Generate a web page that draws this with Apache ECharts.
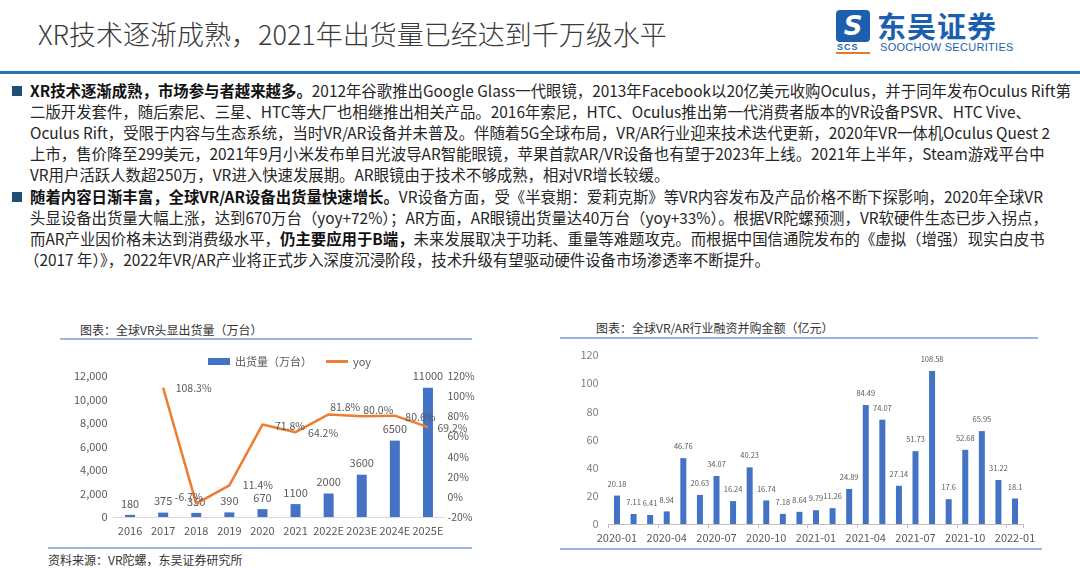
<!DOCTYPE html>
<html>
<head>
<meta charset="utf-8">
<script src="https://cdn.jsdelivr.net/npm/echarts@6/dist/echarts.min.js"></script>
<style>
  html, body { margin: 0; padding: 0; background: #fff; }
  body { width: 1080px; height: 568px; position: relative; overflow: hidden;
         font-family: "Noto Sans CJK SC", sans-serif; color: #262626; }
  .abs { position: absolute; }
  .title { left: 38px; top: 14px; font-size: 27px; color: #3a3a3a; font-weight: 300; white-space: nowrap; }
  .rule { left: 0; top: 71px; width: 1080px; height: 3px; background: #2b74b9; }
  .ln { position: absolute; left: 30px; white-space: nowrap; font-size: 15.4px; line-height: 21px; }
  .ln b { color: #111; }
  .sq { position: absolute; left: 12px; width: 10px; height: 10px; background: #1f4e79; }
  .ctitle { font-size: 12px; color: #333; white-space: nowrap; }
  .hl { height: 2px; background: #9bb5e0; }
  .src { left: 48px; top: 551px; font-size: 12px; color: #333; white-space: nowrap; }
</style>
</head>
<body>
<div class="abs title">XR技术逐渐成熟，2021年出货量已经达到千万级水平</div>

<!-- logo -->
<div class="abs" style="left:836px;top:10px;width:34px;height:32px;background:#1c5fae;border-radius:4px;color:#fff;font:bold 26px/32px 'DejaVu Sans';text-align:center;font-style:italic;">S</div>
<div class="abs" style="left:837px;top:42px;font:bold 9px/10px 'Liberation Sans';color:#1c5fae;letter-spacing:1px;">SCS</div>
<div class="abs" style="left:836px;top:52px;width:34px;height:2px;background:#e07a2c;"></div>
<div class="abs" style="left:877px;top:10px;font-size:29px;line-height:31px;font-weight:bold;color:#1c5fae;letter-spacing:1px;white-space:nowrap;">东吴证券</div>
<div class="abs" style="left:880px;top:41px;font:11px/12px 'Liberation Sans Narrow','Liberation Sans';color:#1c5fae;white-space:nowrap;letter-spacing:0.3px;">SOOCHOW SECURITIES</div>

<div class="abs rule"></div>

<div class="sq" style="top:86px;"></div>
<div class="ln" style="top:80px;"><b>XR技术逐渐成熟，市场参与者越来越多。</b>2012年谷歌推出Google Glass一代眼镜，2013年Facebook以20亿美元收购Oculus，并于同年发布Oculus Rift第</div>
<div class="ln" style="top:101px;">二版开发套件，随后索尼、三星、HTC等大厂也相继推出相关产品。2016年索尼，HTC、Oculus推出第一代消费者版本的VR设备PSVR、HTC Vive、</div>
<div class="ln" style="top:122px;">Oculus Rift，受限于内容与生态系统，当时VR/AR设备并未普及。伴随着5G全球布局，VR/AR行业迎来技术迭代更新，2020年VR一体机Oculus Quest 2</div>
<div class="ln" style="top:143px;">上市，售价降至299美元，2021年9月小米发布单目光波导AR智能眼镜，苹果首款AR/VR设备也有望于2023年上线。2021年上半年，Steam游戏平台中</div>
<div class="ln" style="top:164px;">VR用户活跃人数超250万，VR进入快速发展期。AR眼镜由于技术不够成熟，相对VR增长较缓。</div>

<div class="sq" style="top:192px;"></div>
<div class="ln" style="top:186px;"><b>随着内容日渐丰富，全球VR/AR设备出货量快速增长。</b>VR设备方面，受《半衰期：爱莉克斯》等VR内容发布及产品价格不断下探影响，2020年全球VR</div>
<div class="ln" style="top:207px;">头显设备出货量大幅上涨，达到670万台（yoy+72%）；AR方面，AR眼镜出货量达40万台（yoy+33%）。根据VR陀螺预测，VR软硬件生态已步入拐点，</div>
<div class="ln" style="top:228px;">而AR产业因价格未达到消费级水平，<b>仍主要应用于B端，</b>未来发展取决于功耗、重量等难题攻克。而根据中国信通院发布的《虚拟（增强）现实白皮书</div>
<div class="ln" style="top:249px;left:24px;">（2017 年）》，2022年VR/AR产业将正式步入深度沉浸阶段，技术升级有望驱动硬件设备市场渗透率不断提升。</div>

<!-- chart frames -->
<div class="abs ctitle" style="left:80px;top:321px;">图表：全球VR头显出货量（万台）</div>
<div class="abs hl" style="left:60px;top:338px;width:412px;"></div>
<div class="abs ctitle" style="left:596px;top:319px;">图表：全球VR/AR行业融资并购金额（亿元）</div>
<div class="abs hl" style="left:560px;top:337px;width:478px;"></div>

<div id="c1" class="abs" style="left:40px;top:340px;width:440px;height:205px;"></div>
<div id="c2" class="abs" style="left:560px;top:340px;width:500px;height:210px;"></div>

<div class="abs hl" style="left:48px;top:547px;width:424px;"></div>
<div class="abs hl" style="left:560px;top:548px;width:482px;"></div>
<div class="abs src">资料来源：VR陀螺，东吴证券研究所</div>

<script>
const years = ['2016', '2017', '2018', '2019', '2020', '2021', '2022E', '2023E', '2024E', '2025E']
const shipments = [180, 375, 350, 390, 670, 1100, 2000, 3600, 6500, 11000]
const yoy = ['-', 108.3, -6.7, 11.4, 71.8, 64.2, 81.8, 80.0, 80.6, 69.2]
// where each yoy label sits relative to its point
const yoyLabelPos = [null, [10, 0], [-24, -7], [11, 0], [10, 1], [10, 1], [-1, -7], [-1, -6], [8, 1], [7, 1]]

const months = ['2020-01', '2020-02', '2020-03', '2020-04', '2020-05', '2020-06', '2020-07',
  '2020-08', '2020-09', '2020-10', '2020-11', '2020-12', '2021-01', '2021-02', '2021-03',
  '2021-04', '2021-05', '2021-06', '2021-07', '2021-08', '2021-09', '2021-10', '2021-11',
  '2021-12', '2022-01']
const funding = [20.18, 7.11, 6.41, 8.94, 46.76, 20.63, 34.07, 16.24, 40.23, 16.74, 7.18, 8.64,
  9.79, 11.26, 24.89, 84.49, 74.07, 27.14, 51.73, 108.58, 17.6, 52.68, 65.95, 31.22, 18.1]

const FONT = '"Noto Sans CJK SC", sans-serif'
const GREY = '#595959'

const chart1 = echarts.init(document.getElementById('c1'))
chart1.setOption({
  animation: false,
  textStyle: { fontFamily: FONT },
  legend: {
    top: 11,
    left: 163,
    itemGap: 14,
    itemWidth: 22,
    itemHeight: 7,
    textStyle: { color: GREY, fontSize: 11 },
    data: [
      { name: '出货量（万台）', icon: 'rect' },
      { name: 'yoy', icon: 'path://M0,0 L30,0 L30,4 L0,4 Z' },
    ],
  },
  grid: { left: 73.5, right: 35.5, top: 36, bottom: 28 },
  xAxis: {
    type: 'category',
    data: years,
    axisTick: { show: false },
    axisLine: { lineStyle: { color: '#d9d9d9' } },
    axisLabel: { interval: 0, color: GREY, fontSize: 11, margin: 8 },
  },
  yAxis: [
    {
      type: 'value',
      min: 0,
      max: 12000,
      interval: 2000,
      splitLine: { show: false },
      axisLabel: {
        color: GREY,
        fontSize: 11,
        margin: 6,
        formatter: (v) => v.toLocaleString('en-US'),
      },
    },
    {
      type: 'value',
      min: -20,
      max: 120,
      interval: 20,
      splitLine: { show: false },
      axisLabel: { color: GREY, fontSize: 10.5, margin: 3, formatter: '{value}%' },
    },
  ],
  series: [
    {
      name: '出货量（万台）',
      type: 'bar',
      data: shipments,
      barWidth: 10,
      itemStyle: { color: '#4472c4' },
      label: { show: true, position: 'top', distance: 6, color: GREY, fontSize: 11 },
    },
    {
      name: 'yoy',
      type: 'line',
      yAxisIndex: 1,
      data: yoy.map((v, i) => ({
        value: v,
        label: yoyLabelPos[i] ? { offset: yoyLabelPos[i] } : undefined,
      })),
      symbol: 'circle',
      symbolSize: 1,
      lineStyle: { color: '#ed7d31', width: 2.5 },
      itemStyle: { color: '#ed7d31' },
      label: {
        show: true,
        position: 'right',
        distance: 2,
        color: GREY,
        fontSize: 10.5,
        formatter: (p) => p.value.toFixed(1) + '%',
      },
    },
  ],
})

const chart2 = echarts.init(document.getElementById('c2'))
chart2.setOption({
  animation: false,
  textStyle: { fontFamily: FONT },
  grid: { left: 48.7, right: 36.7, top: 15, bottom: 26 },
  xAxis: {
    type: 'category',
    data: months,
    axisLine: { lineStyle: { color: '#bfbfbf' } },
    axisTick: { show: true, interval: 2, length: 4, lineStyle: { color: '#bfbfbf' } },
    axisLabel: { interval: 2, color: GREY, fontSize: 11, margin: 8 },
  },
  yAxis: {
    type: 'value',
    min: 0,
    max: 120,
    interval: 20,
    splitLine: { show: false },
    axisLabel: { color: '#7f7f7f', fontSize: 11, margin: 10 },
  },
  series: [
    {
      type: 'bar',
      data: funding,
      barWidth: 6,
      itemStyle: { color: '#4472c4' },
      label: { show: true, position: 'top', distance: 8, color: GREY, fontSize: 7.5 },
    },
  ],
})
</script>
</body>
</html>
